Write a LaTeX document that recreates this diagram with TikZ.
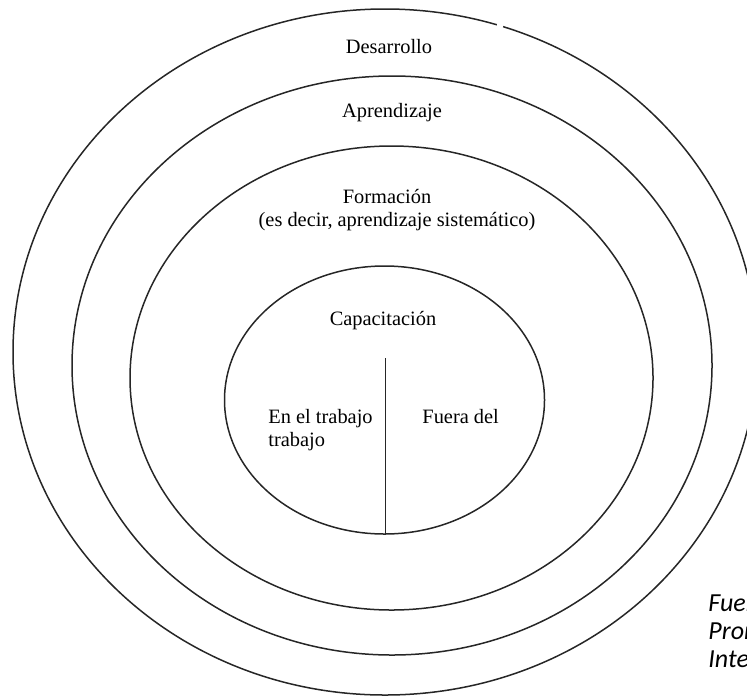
\documentclass[tikz,border=0pt]{standalone}
\usepackage{fontspec}
\setmainfont{Liberation Serif}
\newfontfamily\srcfont{Carlito}
\begin{document}
\begin{tikzpicture}[x=0.5pt,y=-0.5pt,
        ring/.style={draw=black!85,line width=0.75pt},
        lbl/.style={anchor=base,inner sep=0pt,font=\fontsize{10.2}{12}\selectfont},
        lblw/.style={lbl,anchor=base west},
        src/.style={anchor=base west,inner sep=0pt,font=\srcfont\itshape\fontsize{13}{15}\selectfont}]
        \useasboundingbox (0,0) rectangle (747,696);
        \clip (0,0) rectangle (747,696);
        % rings, outer to inner
        \draw[ring] (385,352) ellipse [x radius=186pt, y radius=171.5pt];
        \draw[white,line width=1.6pt] (497,24.9) -- (503,26.7);
        \draw[ring] (392,365.5) ellipse [x radius=160pt, y radius=144.75pt];
        \draw[ring] (391.5,378) ellipse [x radius=130.75pt, y radius=116pt];
        \draw[ring] (384.5,400) ellipse [x radius=80pt, y radius=67pt];
        \coordinate (divtop) at (385,358);
        \coordinate (divbot) at (385,534);
        \draw[black!85,line width=0.5pt] (divtop) -- (divbot);
        \node[lbl] (desarrollo) at (389,53) {Desarrollo};
        \node[lbl] (aprendizaje) at (392,117) {Aprendizaje};
        \node[lbl] (formacion) at (387,203) {Formación};
        \node[lbl] (formnote) at (397,226) {(es decir, aprendizaje sistemático)};
        \node[lbl] (capacitacion) at (383,325) {Capacitación};
        \node[lblw] (entrabajo) at (268,423) {En el trabajo};
        \node[lblw] (entrabajob) at (268,446) {trabajo};
        \node[lblw] (fuera) at (422,423) {Fuera del};
        %\node[src] at (708,585) {...};
        \node[src] (srca) at (708,611) {Fuer};
        \node[src] (srcb) at (708,639) {Pron};
        \node[src] (srcc) at (708,667) {Inte};
    \end{tikzpicture}
\end{document}
